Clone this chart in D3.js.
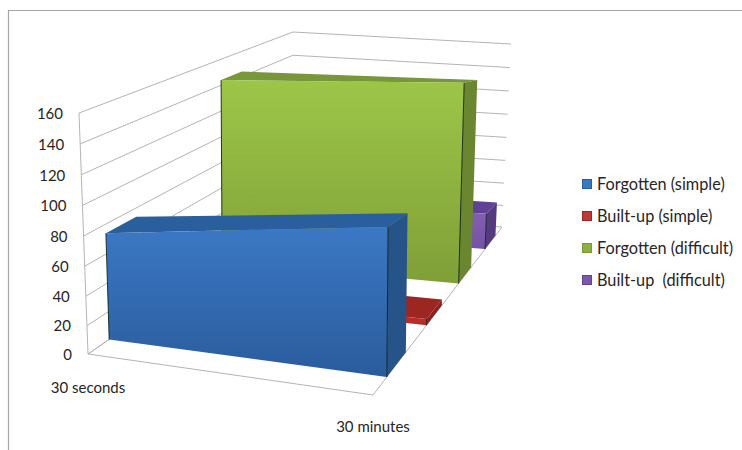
<!DOCTYPE html>
<html>
<head>
<meta charset="utf-8">
<script src="https://cdnjs.cloudflare.com/ajax/libs/d3/7.8.5/d3.min.js"></script>
<style>
html,body{margin:0;padding:0;background:#fff}
svg{display:block}
text{font-family:Lato,"Open Sans",sans-serif;font-size:15px;fill:#262626;white-space:pre}
.legend text{font-size:16.3px}
</style>
</head>
<body>
<svg id="chart" width="742" height="450"></svg>
<script>
// Values for the 3-D area chart
const categories = ["30 seconds", "30 minutes"];
const seriesNames = ["Forgotten (simple)", "Built-up (simple)", "Forgotten (difficult)", "Built-up  (difficult)"];
const forgottenSimple = [74, 74];
const builtUpSimple = [4, 4];
const forgottenDifficult = [144, 135];
const builtUpDifficult = [29, 29];
const valueTicks = [0, 20, 40, 60, 80, 100, 120, 140, 160];

// Per-series shades: front-face gradient top and bottom, top face, side face
const shades = [
  {hi: "#3b78c4", lo: "#2a5c9c", top: "#2a5f9e", side: "#265488", swatch: "#3a78c0"},
  {hi: "#c63a35", lo: "#b52b27", top: "#9c2622", side: "#8a2220", swatch: "#c0393a"},
  {hi: "#9dc648", lo: "#7f9f38", top: "#77973a", side: "#6a8631", swatch: "#8fb03f"},
  {hi: "#8763b8", lo: "#7453a2", top: "#614193", side: "#553a80", swatch: "#7a5aa8"}
];

const allValues = [forgottenSimple, builtUpSimple, forgottenDifficult, builtUpDifficult];

const svg = d3.select("#chart");

// Homography taking the unit square onto a quadrilateral [(0,0),(1,0),(1,1),(0,1)]
function quadMap([a, b, c, d]) {
  const dx1 = b[0] - c[0], dy1 = b[1] - c[1];
  const dx2 = d[0] - c[0], dy2 = d[1] - c[1];
  const sx = a[0] - b[0] + c[0] - d[0], sy = a[1] - b[1] + c[1] - d[1];
  const den = dx1 * dy2 - dy1 * dx2;
  const g = (sx * dy2 - sy * dx2) / den;
  const h = (dx1 * sy - dy1 * sx) / den;
  const m = [b[0] - a[0] + g * b[0], d[0] - a[0] + h * d[0], a[0],
             b[1] - a[1] + g * b[1], d[1] - a[1] + h * d[1], a[1]];
  return (x, z) => {
    const w = g * x + h * z + 1;
    return [(m[0] * x + m[1] * z + m[2]) / w, (m[3] * x + m[4] * z + m[5]) / w];
  };
}

// Bilinear patch for the ceiling, with depth foreshortened like the floor's
function patchMap([a, b, c, d], k) {
  return (x, z) => {
    const t = z * k / (1 + (k - 1) * z);
    const l = [a[0] + (d[0] - a[0]) * t, a[1] + (d[1] - a[1]) * t];
    const r = [b[0] + (c[0] - b[0]) * t, b[1] + (c[1] - b[1]) * t];
    return [l[0] + (r[0] - l[0]) * x, l[1] + (r[1] - l[1]) * x];
  };
}

// Chart box: floor and ceiling corners, front-left, front-right, back-right, back-left
const floor = quadMap([[88, 354], [373, 395], [502, 227], [293, 213]]);
const ceiling = patchMap([[79, 113], [375, 45], [511, 44], [293, 32]], 1.5);

const xScale = d3.scalePoint().domain(categories).range([0, 1]);
const zScale = d3.scaleBand().domain(seriesNames).range([0, 1]).paddingInner(0.55).paddingOuter(0.3);
// Slight power curve: the value axis stretches a little toward the viewer at the top
const vScale = d3.scalePow().exponent(1.03).domain([0, 160]).range([0, 1]);

function project(x, z, value) {
  const f = floor(x, z), c = ceiling(x, z), t = vScale(value);
  return [f[0] + (c[0] - f[0]) * t, f[1] + (c[1] - f[1]) * t];
}
const poly = pts => "M" + pts.map(p => p.join(",")).join("L") + "Z";

// Outer frame of the chart area
svg.append("path").attr("d", "M8.5,450V10.5H742").attr("fill", "none").attr("stroke", "#a6a6a6").attr("stroke-width", 1.2);

// Gridlines along the side wall and the back wall
const walls = svg.append("g").attr("fill", "none").attr("stroke", "#b4b4b4").attr("stroke-width", 1);
walls.selectAll("path.grid").data(valueTicks).join("path").attr("class", "grid")
  .attr("d", v => d3.line()([project(0, 0, v), project(0, 1, v), project(1, 1, v)]));
walls.append("path").attr("d", d3.line()([project(0, 0, 0), project(0, 0, 160)]));
walls.append("path").attr("d", d3.line()([project(0, 1, 0), project(0, 0, 0), project(1, 0, 0), project(1, 1, 0)]));

// Front-face gradients
const defs = svg.append("defs");
shades.forEach((s, i) => {
  const g = defs.append("linearGradient").attr("id", "front" + i).attr("x1", 0).attr("y1", 0).attr("x2", 0).attr("y2", 1);
  g.append("stop").attr("offset", 0).attr("stop-color", s.hi);
  g.append("stop").attr("offset", 1).attr("stop-color", s.lo);
});

// Series are painted from the back of the chart to the front
const order = d3.range(seriesNames.length).reverse();
const marks = svg.selectAll("g.series").data(order).join("g").attr("class", "series");
marks.each(function(i) {
  const g = d3.select(this);
  const [v0, v1] = allValues[i];
  const x0 = xScale(categories[0]), x1 = xScale(categories[1]);
  const z0 = zScale(seriesNames[i]), z1 = z0 + zScale.bandwidth();
  g.append("path").attr("fill", shades[i].top)
    .attr("d", poly([project(x0, z0, v0), project(x1, z0, v1), project(x1, z1, v1), project(x0, z1, v0)]));
  g.append("path").attr("fill", shades[i].side)
    .attr("d", poly([project(x1, z0, 0), project(x1, z1, 0), project(x1, z1, v1), project(x1, z0, v1)]));
  g.append("path").attr("fill", `url(#front${i})`)
    .attr("d", poly([project(x0, z0, 0), project(x1, z0, 0), project(x1, z0, v1), project(x0, z0, v0)]));
  const edges = g.append("g").attr("stroke", "#10241a").attr("stroke-opacity", 0.9).attr("stroke-width", 1).attr("fill", "none");
  edges.append("path").attr("d", d3.line()([project(x0, z0, 0), project(x0, z0, v0)]));
  edges.append("path").attr("d", d3.line()([project(x1, z0, 0), project(x1, z0, v1)]));
});

// Value labels beside the side wall
svg.append("g").selectAll("text").data(valueTicks).join("text")
  .attr("x", v => project(0, 0, v)[0] - 16)
  .attr("y", v => project(0, 0, v)[1] + 2)
  .attr("text-anchor", "end").attr("dominant-baseline", "middle")
  .text(v => v);

// Category labels under the front edge
svg.append("g").selectAll("text").data(categories).join("text")
  .attr("x", c => project(xScale(c), 0, 0)[0])
  .attr("y", (c, i) => project(xScale(c), 0, 0)[1] + [35, 33][i])
  .attr("text-anchor", "middle").attr("dominant-baseline", "middle")
  .text(c => c);

// Legend
const legendY = d3.scalePoint().domain(seriesNames).range([184, 280]);
const legend = svg.append("g").attr("class", "legend").selectAll("g").data(seriesNames).join("g")
  .attr("transform", d => `translate(582,${legendY(d)})`);
legend.append("rect").attr("x", 0.5).attr("y", -4.5).attr("width", 9).attr("height", 9)
  .attr("fill", (d, i) => shades[i].swatch).attr("stroke", (d, i) => shades[i].top).attr("stroke-width", 1);
legend.append("text").attr("x", 15).attr("y", 2).attr("dominant-baseline", "middle").text(d => d);
</script>
</body>
</html>
